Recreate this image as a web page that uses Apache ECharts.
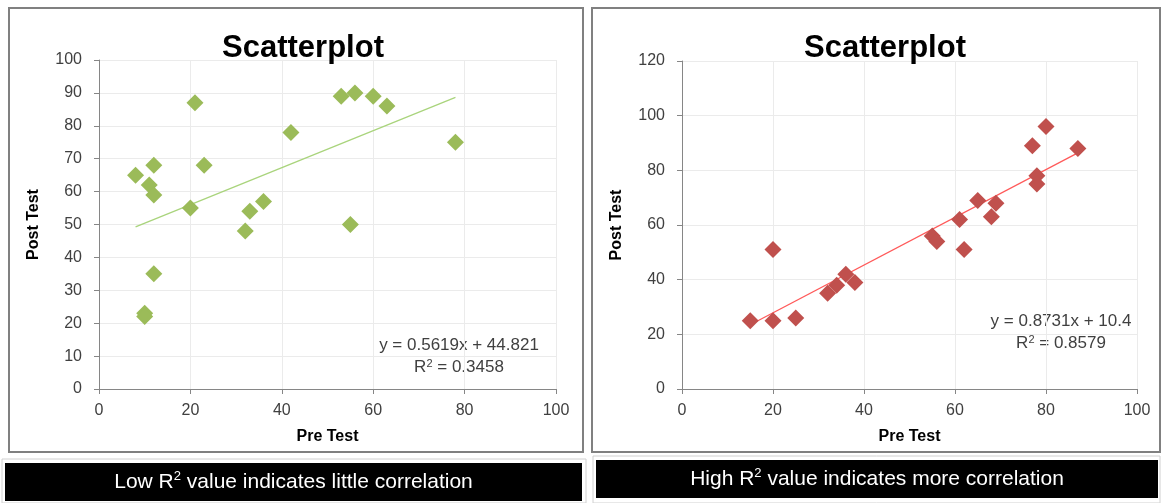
<!DOCTYPE html>
<html>
<head>
<meta charset="utf-8">
<title>Scatterplot</title>
<script src="https://cdn.jsdelivr.net/npm/echarts@6/dist/echarts.min.js"></script>
<style>
  html, body { margin: 0; padding: 0; background: #fff; }
  #main { width: 1161px; height: 503px; }
</style>
</head>
<body>
<div id="main"></div>
<script>
// left chart: low correlation
var lowPre  = [8, 10, 10, 11, 12, 12, 12, 20, 21, 23, 32, 33, 36, 42, 53, 56, 60, 63, 55, 78];
var lowPost = [65, 23, 22, 62, 68, 59, 35, 55, 87, 68, 48, 54, 57, 78, 89, 90, 89, 86, 50, 75];
var lowTrendX = [8, 78];
var lowTrendY = [49.3, 88.65];

// right chart: high correlation
var highPre  = [15, 20, 20, 25, 32, 34, 36, 38, 55, 56, 61, 62, 65, 68, 69, 77, 78, 78, 80, 87];
var highPost = [25, 51, 25, 26, 35, 38, 42, 39, 56, 54, 62, 51, 69, 63, 68, 89, 78, 75, 96, 88];
var highTrendX = [15, 87];
var highTrendY = [23.5, 86.4];

var lowEq = ['y = 0.5619x + 44.821', '0.3458'];
var highEq = ['y = 0.8731x + 10.4', '0.8579'];
var captions = ['Low', 'little', 'High', 'more'];

function pairs(xs, ys) {
  return xs.map(function (x, i) { return [x, ys[i]]; });
}

var font = '"Liberation Sans", sans-serif';

function xAx(idx) {
  return {
    gridIndex: idx, type: 'value', min: 0, max: 100, interval: 20,
    name: 'Pre Test', nameLocation: 'middle', nameGap: 40,
    nameTextStyle: { fontFamily: font, fontWeight: 'bold', fontSize: 16, color: '#000' },
    axisLine: { lineStyle: { color: '#868686', width: 1 } },
    axisTick: { show: true, length: 5, lineStyle: { color: '#868686' } },
    axisLabel: { fontFamily: font, fontSize: 16, color: '#404040', margin: 14 },
    splitLine: { show: true, lineStyle: { color: '#ebebeb' } }
  };
}
function yAx(idx, max, step) {
  return {
    gridIndex: idx, type: 'value', min: 0, max: max, interval: step,
    name: 'Post Test', nameLocation: 'middle', nameGap: 57,
    nameTextStyle: { fontFamily: font, fontWeight: 'bold', fontSize: 16, color: '#000' },
    axisLine: { show: true, lineStyle: { color: '#868686', width: 1 } },
    axisTick: { show: true, length: 5, lineStyle: { color: '#868686' } },
    axisLabel: { fontFamily: font, fontSize: 16, color: '#404040', margin: 17 },
    splitLine: { show: true, lineStyle: { color: '#ebebeb' } }
  };
}

function eqText(x, y, lines) {
  return [
    { type: 'text', x: x, y: y, style: { text: lines[0], font: '17px ' + font, fill: '#404040', align: 'center', verticalAlign: 'middle' } },
    { type: 'text', x: x, y: y + 22, style: {
      text: '{a|R}{s|2}{a| = ' + lines[1] + '}',
      rich: { a: { font: '17px ' + font, fill: '#404040' }, s: { font: '11px ' + font, fill: '#404040', padding: [0, 0, 7, 0] } },
      align: 'center', verticalAlign: 'middle' } }
  ];
}

function caption(x, y, w, h, first, word) {
  return [
    { type: 'rect', shape: { x: x, y: y, width: w, height: h }, style: { fill: '#000' } },
    { type: 'text', x: x + w / 2, y: y + h / 2, style: {
      text: '{a|' + first + ' R}{s|2}{a| value indicates ' + word + ' correlation}',
      rich: { a: { font: '21px ' + font, fill: '#fff' }, s: { font: '13px ' + font, fill: '#fff', padding: [0, 0, 11, 0] } },
      align: 'center', verticalAlign: 'middle' } }
  ];
}

var chart = echarts.init(document.getElementById('main'));
chart.setOption({
  animation: false,
  title: [
    { text: 'Scatterplot', left: 298, top: 28, textAlign: 'center',
      textStyle: { fontFamily: font, fontSize: 31, fontWeight: 'bold', color: '#000' } },
    { text: 'Scatterplot', left: 880, top: 28, textAlign: 'center',
      textStyle: { fontFamily: font, fontSize: 31, fontWeight: 'bold', color: '#000' } }
  ],
  grid: [
    { left: 99, top: 60, width: 457, height: 329 },
    { left: 682, top: 61, width: 455, height: 328 }
  ],
  xAxis: [xAx(0), xAx(1)],
  yAxis: [yAx(0, 100, 10), yAx(1, 120, 20)],
  series: [
    { type: 'line', xAxisIndex: 0, yAxisIndex: 0, data: pairs(lowTrendX, lowTrendY), symbol: 'none',
      lineStyle: { color: '#a9d47c', width: 1.3 }, z: 1 },
    { type: 'scatter', xAxisIndex: 0, yAxisIndex: 0, data: pairs(lowPre, lowPost), symbol: 'diamond',
      symbolSize: 17, itemStyle: { color: '#9bbb59', opacity: 1 }, z: 2 },
    { type: 'line', xAxisIndex: 1, yAxisIndex: 1, data: pairs(highTrendX, highTrendY), symbol: 'none',
      lineStyle: { color: '#ff5a5a', width: 1.3 }, z: 1 },
    { type: 'scatter', xAxisIndex: 1, yAxisIndex: 1, data: pairs(highPre, highPost), symbol: 'diamond',
      symbolSize: 17, itemStyle: { color: '#c0504d', opacity: 1 }, z: 2 }
  ],
  graphic: [
    { type: 'rect', shape: { x: 9, y: 8, width: 574, height: 444 }, style: { fill: 'none', stroke: '#808080', lineWidth: 2 } },
    { type: 'rect', shape: { x: 592, y: 8, width: 568, height: 444 }, style: { fill: 'none', stroke: '#808080', lineWidth: 2 } },
    { type: 'rect', shape: { x: 2, y: 459, width: 584, height: 44 }, style: { fill: 'none', stroke: '#d0d0d0', lineWidth: 1 } },
    { type: 'rect', shape: { x: 593, y: 456, width: 567, height: 47 }, style: { fill: 'none', stroke: '#d0d0d0', lineWidth: 1 } }
  ]
    .concat(eqText(459, 345, lowEq))
    .concat(eqText(1061, 321, highEq))
    .concat(caption(5, 463, 577, 38, captions[0], captions[1]))
    .concat(caption(596, 460, 562, 38, captions[2], captions[3]))
});
</script>
</body>
</html>
